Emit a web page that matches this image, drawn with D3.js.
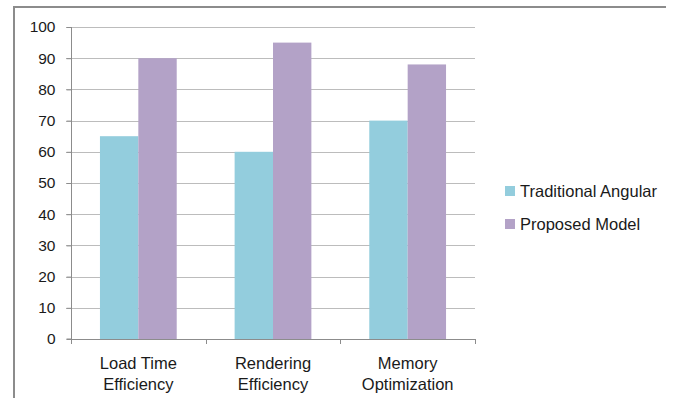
<!DOCTYPE html>
<html>
<head>
<meta charset="utf-8">
<script src="https://cdn.jsdelivr.net/npm/d3@7"></script>
<style>
  body { margin: 0; background: #fff; }
  text { font-family: "Liberation Sans", Arial, sans-serif; fill: #1a1a1a; }
</style>
</head>
<body>
<div id="chart"></div>
<script>
// data
const categories = [["Load Time", "Efficiency"], ["Rendering", "Efficiency"], ["Memory", "Optimization"]];
const seriesNames = ["Traditional Angular", "Proposed Model"];
const traditional = [65, 60, 70];
const proposed = [90, 95, 88];
const yTicks = [0, 10, 20, 30, 40, 50, 60, 70, 80, 90, 100];
const colors = ["#93cddd", "#b3a2c7"];

const svgWidth = 681;
const svgHeight = 398;

const plot = { left: 71, right: 475, top: 27, bottom: 339 };

let svg = d3.select("#chart")
  .append("svg")
  .attr("width", svgWidth)
  .attr("height", svgHeight);

// outer chart border (only top and left show in the crop)
svg.append("path")
  .attr("d", "M14,398 L14,7 L666,7")
  .attr("fill", "none")
  .attr("stroke", "#8c8c8c")
  .attr("stroke-width", 2);

const xOuter = d3.scaleBand()
  .domain(d3.range(categories.length))
  .range([plot.left, plot.right]);

const y = d3.scaleLinear()
  .domain([0, 100])
  .range([plot.bottom, plot.top]);

// gridlines
svg.append("g")
  .selectAll("line")
  .data(yTicks.filter(d => d > 0))
  .enter()
  .append("line")
  .attr("x1", plot.left - 5)
  .attr("x2", plot.right)
  .attr("y1", d => Math.round(y(d)) + 0.5)
  .attr("y2", d => Math.round(y(d)) + 0.5)
  .attr("stroke", "#bcbcbc");

// bars
const data = [traditional, proposed];
const barW = xOuter.bandwidth() * 0.285;
data.forEach((vals, s) => {
  svg.append("g")
    .selectAll("rect")
    .data(vals)
    .enter()
    .append("rect")
    .attr("x", (d, i) => xOuter(i) + xOuter.bandwidth() / 2 - barW + s * barW)
    .attr("y", d => y(d))
    .attr("width", barW)
    .attr("height", d => y(0) - y(d))
    .attr("fill", colors[s]);
});

// y axis
const yAxis = svg.append("g")
  .attr("transform", `translate(${plot.left + 0.5},0)`)
  .call(d3.axisLeft(y).tickValues(yTicks).tickSize(5).tickPadding(11));
yAxis.select(".domain").attr("stroke", "#8c8c8c").attr("d", `M-5,${plot.bottom}H0V${plot.top}`);
yAxis.selectAll(".tick line").attr("stroke", "#8c8c8c");
yAxis.selectAll(".tick text").style("font-size", "15.5px").attr("fill", "#1a1a1a")
  .attr("font-family", "Liberation Sans, Arial, sans-serif");

// x axis
const xAxisG = svg.append("g");
xAxisG.append("line")
  .attr("x1", plot.left)
  .attr("x2", plot.right + 0.5)
  .attr("y1", plot.bottom + 0.5)
  .attr("y2", plot.bottom + 0.5)
  .attr("stroke", "#8c8c8c");
xAxisG.selectAll(".xt")
  .data(d3.range(categories.length + 1))
  .enter()
  .append("line")
  .attr("x1", i => Math.round(plot.left + i * xOuter.bandwidth()) + 0.5)
  .attr("x2", i => Math.round(plot.left + i * xOuter.bandwidth()) + 0.5)
  .attr("y1", plot.bottom)
  .attr("y2", plot.bottom + 5)
  .attr("stroke", "#8c8c8c");

xAxisG.selectAll(".xl")
  .data(categories)
  .enter()
  .append("text")
  .attr("text-anchor", "middle")
  .style("font-size", "16.5px")
  .each(function (lines, i) {
    const t = d3.select(this);
    lines.forEach((ln, k) => {
      t.append("tspan")
        .attr("x", xOuter(i) + xOuter.bandwidth() / 2)
        .attr("y", 369 + k * 21)
        .text(ln);
    });
  });

// legend
const legend = svg.append("g");
seriesNames.forEach((name, s) => {
  const ly = 191 + s * 33;
  legend.append("rect")
    .attr("x", 505)
    .attr("y", ly - 5)
    .attr("width", 10)
    .attr("height", 10)
    .attr("fill", colors[s]);
  legend.append("text")
    .attr("x", 520)
    .attr("y", ly + 6)
    .style("font-size", "16.5px")
    .text(name);
});
</script>
</body>
</html>
